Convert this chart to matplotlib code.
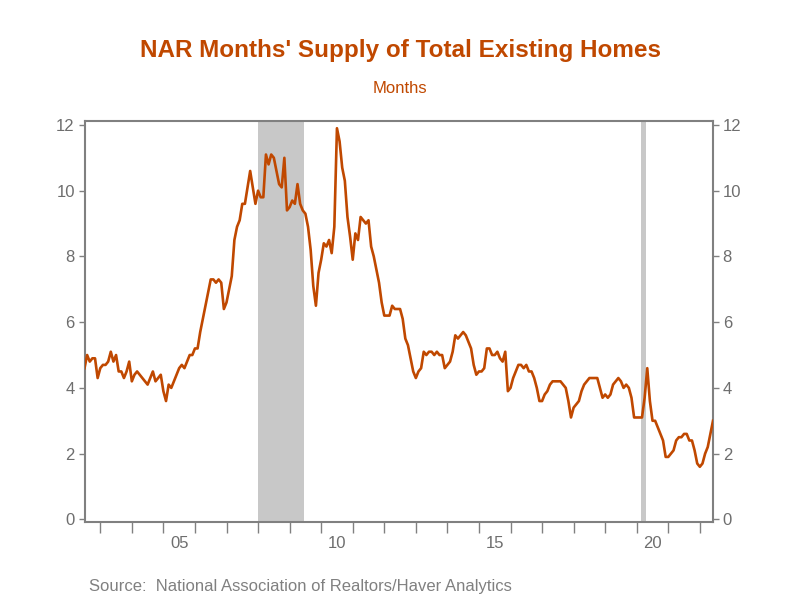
import numpy as np
import matplotlib.pyplot as plt
from matplotlib.ticker import FixedLocator, NullFormatter

plt.rcParams['font.family'] = ['Liberation Sans', 'DejaVu Sans']

# monthly, Jul 2002 - Jun 2022
start_year = 2002.5
supply = [
    4.6, 5.0, 4.8, 4.9, 4.9, 4.3,                      # 2002 H2
    4.6, 4.7, 4.7, 4.8, 5.1, 4.8, 5.0, 4.5, 4.5, 4.3, 4.5, 4.8,   # 2003
    4.2, 4.4, 4.5, 4.4, 4.3, 4.2, 4.1, 4.3, 4.5, 4.2, 4.3, 4.4,   # 2004
    3.9, 3.6, 4.1, 4.0, 4.2, 4.4, 4.6, 4.7, 4.6, 4.8, 5.0, 5.0,   # 2005
    5.2, 5.2, 5.7, 6.1, 6.5, 6.9, 7.3, 7.3, 7.2, 7.3, 7.2, 6.4,   # 2006
    6.6, 7.0, 7.4, 8.5, 8.9, 9.1, 9.6, 9.6, 10.1, 10.6, 10.1, 9.6,  # 2007
    10.0, 9.8, 9.8, 11.1, 10.8, 11.1, 11.0, 10.6, 10.2, 10.1, 11.0, 9.4,  # 2008
    9.5, 9.7, 9.6, 10.2, 9.6, 9.4, 9.3, 8.9, 8.2, 7.1, 6.5, 7.5,   # 2009
    7.9, 8.4, 8.3, 8.5, 8.1, 8.9, 11.9, 11.5, 10.7, 10.3, 9.2, 8.6,  # 2010
    7.9, 8.7, 8.5, 9.2, 9.1, 9.0, 9.1, 8.3, 8.0, 7.6, 7.2, 6.6,   # 2011
    6.2, 6.2, 6.2, 6.5, 6.4, 6.4, 6.4, 6.1, 5.5, 5.3, 4.9, 4.5,   # 2012
    4.3, 4.5, 4.6, 5.1, 5.0, 5.1, 5.1, 5.0, 5.1, 5.0, 5.0, 4.6,   # 2013
    4.7, 4.8, 5.1, 5.6, 5.5, 5.6, 5.7, 5.6, 5.4, 5.2, 4.7, 4.4,   # 2014
    4.5, 4.5, 4.6, 5.2, 5.2, 5.0, 5.0, 5.1, 4.9, 4.8, 5.1, 3.9,   # 2015
    4.0, 4.3, 4.5, 4.7, 4.7, 4.6, 4.7, 4.5, 4.5, 4.3, 4.0, 3.6,   # 2016
    3.6, 3.8, 3.9, 4.1, 4.2, 4.2, 4.2, 4.2, 4.1, 4.0, 3.6, 3.1,   # 2017
    3.4, 3.5, 3.6, 3.9, 4.1, 4.2, 4.3, 4.3, 4.3, 4.3, 4.0, 3.7,   # 2018
    3.8, 3.7, 3.8, 4.1, 4.2, 4.3, 4.2, 4.0, 4.1, 4.0, 3.7, 3.1,   # 2019
    3.1, 3.1, 3.1, 3.7, 4.6, 3.6, 3.0, 3.0, 2.8, 2.6, 2.4, 1.9,   # 2020
    1.9, 2.0, 2.1, 2.4, 2.5, 2.5, 2.6, 2.6, 2.4, 2.4, 2.1, 1.7,   # 2021
    1.6, 1.7, 2.0, 2.2, 2.6, 3.0,                      # 2022 H1
]
recessions = [(2008.0, 2009.46), (2020.14, 2020.30)]
year_labels = ['05', '10', '15', '20']
label_years = [2005, 2010, 2015, 2020]

t = start_year + np.arange(len(supply)) / 12.0

orange = '#c04800'
grey = '#808080'
txt_grey = '#6e6e6e'

fig = plt.figure(figsize=(8, 6), dpi=100)
ax = fig.add_axes([84.5 / 800, 1 - 522 / 600, (713 - 84.5) / 800, (522 - 121) / 600])

for r0, r1 in recessions:
    ax.axvspan(r0, r1, color='#c8c8c8', lw=0, zorder=1)

ax.plot(t, supply, color=orange, lw=1.9, zorder=3)

ax.set_xlim(start_year, t[-1])
ax.set_ylim(-0.08, 12.12)

ax.set_yticks(np.arange(0, 13, 2))
ax.tick_params(axis='y', which='major', direction='out', length=4, width=1,
               color=grey, labelcolor=txt_grey, labelsize=12,
               left=True, right=True, labelleft=True, labelright=True, pad=3)

ax.xaxis.set_major_locator(FixedLocator(np.arange(2003, 2023)))
ax.xaxis.set_major_formatter(NullFormatter())
ax.xaxis.set_minor_locator(FixedLocator([y + 0.5 for y in label_years]))
ax.set_xticklabels(year_labels, minor=True)
ax.tick_params(axis='x', which='major', direction='out', length=8, width=1, color=grey)
ax.tick_params(axis='x', which='minor', length=0, labelcolor=txt_grey,
               labelsize=12, pad=10)

for s in ax.spines.values():
    s.set_color(grey)
    s.set_linewidth(1.5)

fig.text(0.5, 1 - 51 / 600, "NAR Months' Supply of Total Existing Homes",
         ha='center', va='center', fontsize=17.5, fontweight='bold', color=orange)
fig.text(0.5, 1 - 88 / 600, 'Months', ha='center', va='center',
         fontsize=12, color=orange)
fig.text(89 / 800, 1 - 587 / 600,
         'Source:  National Association of Realtors/Haver Analytics',
         ha='left', va='center', fontsize=12, color=grey)

fig.savefig('out.png', dpi=100)
